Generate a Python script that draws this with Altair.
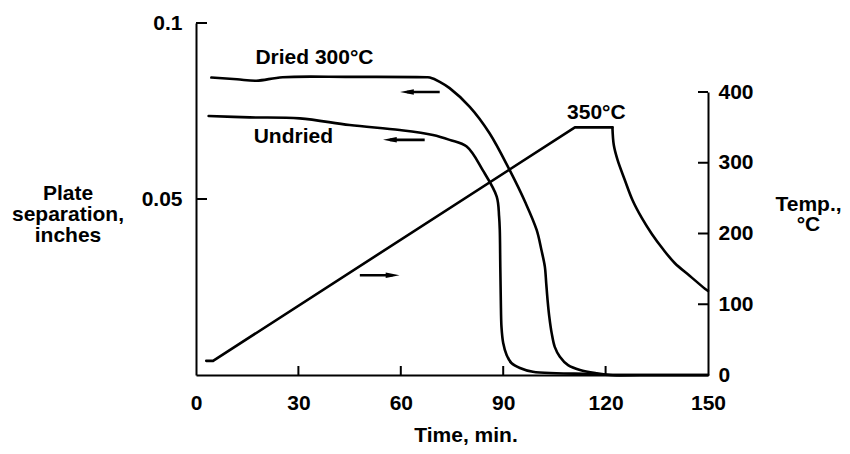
import altair as alt
import pandas as pd

FONT = "Liberation Sans, Arial, Helvetica, sans-serif"

# ---- data ----
# Plate separation (inches) vs time (min), dried at 300°C
dried_t = [4.5, 12.0, 17.7, 25.4, 45.0, 67.6, 68.5, 71.4, 74.3, 80.2, 86.0, 91.9, 96.5,
           99.8, 101.2, 102.2, 102.6, 103.0, 103.5, 104.2, 105.1, 106.6, 109.0, 112.5,
           117.4, 122.1, 130.0, 140.0, 150.0]
dried_v = [0.0845, 0.0840, 0.0836, 0.0846, 0.0847, 0.0846, 0.0845, 0.0833, 0.0815, 0.0762,
           0.0687, 0.0582, 0.0490, 0.0412, 0.0355, 0.0308, 0.0261, 0.0213, 0.0166, 0.0119,
           0.0080, 0.0052, 0.0028, 0.0014, 0.0005, 0.0, 0.0, 0.0, 0.0]

# Plate separation (inches) vs time (min), undried
undried_t = [3.7, 15.7, 30.4, 45.0, 59.7, 69.4, 74.3, 79.3, 84.0, 88.1, 88.8, 89.0, 89.15,
             89.3, 89.5, 90.0, 91.0, 92.4, 94.9, 98.7, 105.6, 115.4, 121.3, 130.0, 140.0, 150.0]
undried_v = [0.0736, 0.0732, 0.0729, 0.0710, 0.0696, 0.0682, 0.0668, 0.0649, 0.0582, 0.0507,
             0.0450, 0.0412, 0.0307, 0.0213, 0.0136, 0.0091, 0.0057, 0.0034, 0.0020, 0.0009,
             0.0005, 0.0003, 0.0, 0.0, 0.0, 0.0]

# Temperature (°C) vs time (min): linear heating ramp, then cooling curve
temp_rise_t = [3.0, 5.0, 111.0, 122.0]
temp_rise_c = [20, 20, 350, 350]
temp_fall_t = [122.0, 122.4, 123.5, 125.6, 127.9, 130.6, 133.6, 136.8, 140.3, 144.7, 149.1, 150.0]
temp_fall_c = [350, 325, 304, 276, 247, 222, 199, 178, 158, 140, 122, 119]

# Axis ticks
x_ticks = [0, 30, 60, 90, 120, 150]
x_inner_ticks = [30, 60, 90, 120]
sep_ticks = [0.05, 0.1]
temp_ticks = [0, 100, 200, 300, 400]

# Annotations
sep_label_text = ["Dried 300°C", "Undried"]
sep_label_t = [17.4, 16.9]
sep_label_v = [0.0901, 0.0675]
temp_label_text = ["350°C"]
temp_label_t = [117.3]
temp_label_c = [371]

# arrows (tail time, head-centre time, level)
sep_arrow_tail = [71.4, 67.0]
sep_arrow_head = [61.8, 56.8]
sep_arrow_v = [0.0804, 0.0668]
temp_arrow_tail = [48.0]
temp_arrow_head = [57.6]
temp_arrow_c = [141]

W, H = 512, 352

dried = pd.DataFrame({"t": dried_t, "v": dried_v})
undried = pd.DataFrame({"t": undried_t, "v": undried_v})
rise = pd.DataFrame({"t": temp_rise_t, "c": temp_rise_c})
fall = pd.DataFrame({"t": temp_fall_t, "c": temp_fall_c})
sep_labels = pd.DataFrame({"t": sep_label_t, "v": sep_label_v, "txt": sep_label_text})
temp_labels = pd.DataFrame({"t": temp_label_t, "c": temp_label_c, "txt": temp_label_text})
sep_arrows = pd.DataFrame({"t": sep_arrow_tail, "h": sep_arrow_head, "v": sep_arrow_v})
temp_arrows = pd.DataFrame({"t": temp_arrow_tail, "h": temp_arrow_head, "c": temp_arrow_c})
xt = pd.DataFrame({"t": x_inner_ticks})
st = pd.DataFrame({"v": sep_ticks})
tt = pd.DataFrame({"c": temp_ticks})


def xscale():
    return alt.Scale(domain=[0, 150], nice=False, zero=False)


def sscale():
    return alt.Scale(domain=[0, 0.1], range=[H, 0], nice=False)


def tscale():
    return alt.Scale(domain=[0, 400], range=[H, 69], nice=False)


common_axis = dict(
    grid=False, ticks=False, tickSize=0, domainColor="black", domainWidth=2,
    labelFont=FONT, labelFontSize=21, labelFontWeight="bold", labelColor="black",
    labelFlush=False, labelOverlap=False, labelBound=False,
    titleFont=FONT, titleFontSize=21, titleFontWeight="bold", titleColor="black",
)


def x_axis():
    return alt.Axis(values=x_ticks, orient="bottom", labelPadding=17, title="Time, min.",
                    titleX=269.5, titleY=66.5, titleAlign="center", titleBaseline="alphabetic",
                    **common_axis)


s_axis = alt.Axis(values=sep_ticks, orient="left", labelPadding=14, format="~g",
                  title=["Plate", "separation,", "inches"], titleAngle=0,
                  titleX=-128.5, titleY=170, titleAlign="center", titleBaseline="middle",
                  titleLineHeight=21, **common_axis)
t_axis = alt.Axis(values=temp_ticks, orient="right", labelPadding=10,
                  title=["Temp.,", "°C"], titleAngle=0,
                  titleX=100, titleY=181, titleAlign="center", titleBaseline="middle",
                  titleLineHeight=20, **common_axis)


def X(field="t"):
    return alt.X(f"{field}:Q", scale=xscale(), axis=x_axis())


def YS(axis=None):
    return alt.Y("v:Q", scale=sscale(), axis=axis)


def YT(axis=None):
    return alt.Y("c:Q", scale=tscale(), axis=axis)


line_style = dict(color="black", strokeWidth=2.6, strokeCap="round", strokeJoin="round")
text_style = dict(font=FONT, fontSize=21, fontWeight="bold", baseline="middle", color="black")

dried_line = alt.Chart(dried).mark_line(interpolate="catmull-rom", **line_style).encode(
    x=X(), y=YS(s_axis), order="t:Q")
undried_line = alt.Chart(undried).mark_line(interpolate="catmull-rom", **line_style).encode(
    x=X(), y=YS(), order="t:Q")
sep_text = alt.Chart(sep_labels).mark_text(align="left", **text_style).encode(
    x=X(), y=YS(), text="txt:N")
sep_shaft = alt.Chart(sep_arrows).mark_rule(color="black", strokeWidth=2.6).encode(
    x=X(), x2="h:Q", y=YS())
sep_head = alt.Chart(sep_arrows).mark_point(
    shape="M-1,0L1,-0.4L1,0.4Z", filled=True, size=190, color="black", opacity=1, strokeWidth=0
).encode(x=X("h"), y=YS())
x_tick_marks = alt.Chart(xt).mark_rule(color="black", strokeWidth=2).encode(
    x=X(), y=alt.value(H), y2=alt.value(H - 9))
s_tick_marks = alt.Chart(st).mark_rule(color="black", strokeWidth=2).encode(
    y=YS(), x=alt.value(0), x2=alt.value(11))

temp_rise_line = alt.Chart(rise).mark_line(interpolate="linear", **line_style).encode(
    x=X(), y=YT(t_axis), order="t:Q")
temp_fall_line = alt.Chart(fall).mark_line(interpolate="catmull-rom", **line_style).encode(
    x=X(), y=YT(), order="t:Q")
temp_text = alt.Chart(temp_labels).mark_text(align="center", **text_style).encode(
    x=X(), y=YT(), text="txt:N")
temp_shaft = alt.Chart(temp_arrows).mark_rule(color="black", strokeWidth=2.6).encode(
    x=X(), x2="h:Q", y=YT())
temp_head = alt.Chart(temp_arrows).mark_point(
    shape="M1,0L-1,-0.4L-1,0.4Z", filled=True, size=190, color="black", opacity=1, strokeWidth=0
).encode(x=X("h"), y=YT())
t_tick_marks = alt.Chart(tt).mark_rule(color="black", strokeWidth=2).encode(
    y=YT(), x=alt.value(W), x2=alt.value(W - 10))

chart = alt.layer(
    dried_line, temp_rise_line, undried_line, sep_text, sep_shaft, sep_head,
    x_tick_marks, s_tick_marks, temp_fall_line, temp_text, temp_shaft, temp_head,
    t_tick_marks,
).resolve_scale(y="independent").resolve_axis(y="independent").properties(
    width=W, height=H,
    autosize=alt.AutoSizeParams(type="none"),
    padding={"left": 188, "top": 15, "right": 134, "bottom": 71},
    background="white",
).configure_view(stroke=None)

chart.save("out.html", embed_options={"renderer": "svg", "actions": False})
